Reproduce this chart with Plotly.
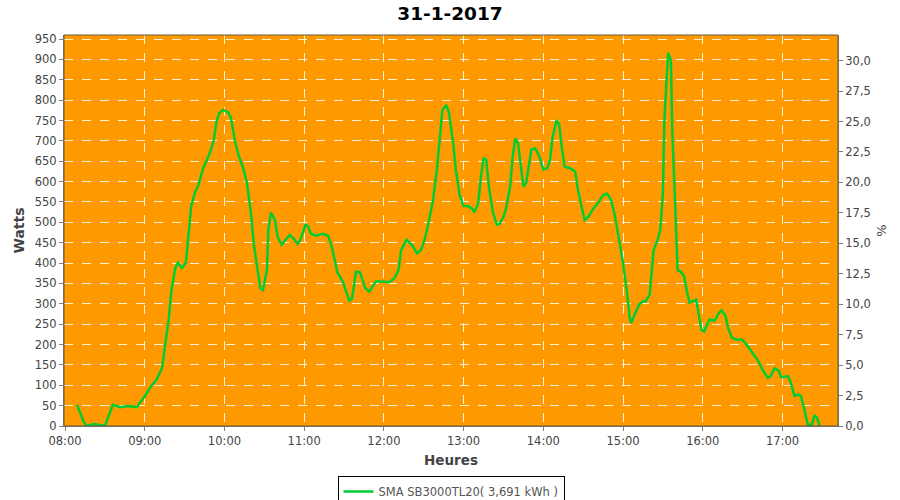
import plotly.graph_objects as go

DAY = "2017-01-31"
times = ["08:09","08:14","08:16","08:22","08:30","08:36","08:42","08:47","08:54","09:00",
         "09:05","09:09","09:13","09:15","09:18","09:20","09:23","09:25","09:28","09:31",
         "09:33","09:35","09:38","09:40","09:44","09:49","09:52","09:54","09:56","09:59",
         "10:03","10:05","10:08","10:11","10:14","10:17","10:20","10:22","10:25","10:27",
         "10:29","10:32","10:33","10:35","10:38","10:40","10:43","10:45","10:49","10:52",
         "10:55","10:57","10:59","11:01","11:03","11:05","11:09","11:14","11:18","11:20",
         "11:23","11:25","11:29","11:34","11:36","11:39","11:42","11:46","11:49","11:54",
         "11:59","12:04","12:08","12:11","12:13","12:17","12:21","12:25","12:28","12:31",
         "12:34","12:37","12:40","12:42","12:44","12:47","12:49","12:52","12:54","12:57",
         "13:00","13:03","13:06","13:08","13:11","13:13","13:15","13:17","13:19","13:22",
         "13:25","13:27","13:30","13:32","13:35","13:37","13:39","13:41","13:43","13:45",
         "13:47","13:49","13:51","13:54","13:57","14:00","14:03","14:05","14:07","14:10",
         "14:12","14:14","14:16","14:20","14:24","14:26","14:29","14:31","14:34","14:37",
         "14:41","14:45","14:48","14:51","14:54","14:57","15:00","15:03","15:05","15:06",
         "15:09","15:12","15:15","15:17","15:20","15:21","15:23","15:26","15:28","15:30",
         "15:31","15:33","15:34","15:36","15:37","15:39","15:40","15:41","15:44","15:46",
         "15:48","15:50","15:52","15:55","15:57","15:59","16:01","16:03","16:05","16:09",
         "16:12","16:14","16:17","16:19","16:22","16:26","16:29","16:32","16:35","16:38",
         "16:42","16:45","16:49","16:51","16:54","16:57","16:59","17:02","17:04","17:06",
         "17:09","17:12","17:14","17:17","17:19","17:22","17:24","17:26","17:28"]
watts = [52,11,0,5,0,52,46,49,46,73,
         99,114,142,195,261,330,388,401,388,401,
         477,540,575,588,633,670,702,747,768,776,
         770,755,698,661,635,596,522,449,383,338,
         334,383,481,524,506,465,445,453,469,461,
         447,456,477,494,490,472,467,472,467,449,
         408,377,355,308,312,379,377,338,330,355,
         355,353,363,383,432,457,445,424,432,461,
         506,555,633,715,776,788,768,698,633,567,
         540,540,535,525,547,612,657,653,588,526,
         494,496,514,535,588,665,706,694,633,588,
         596,641,679,682,661,630,633,653,710,751,
         739,682,637,633,625,580,531,506,514,531,
         547,567,570,555,514,461,400,326,265,253,
         277,298,306,306,322,367,432,457,481,572,
         743,866,916,898,727,563,449,383,377,367,
         330,303,306,310,273,236,232,248,261,259,
         277,284,271,240,216,212,213,204,191,175,
         158,138,118,123,142,136,120,121,123,109,
         74,77,73,32,3,3,25,20,0]

series_name = "SMA SB3000TL20( 3,691 kWh )"
title_text = "31-1-2017"
peak_power = 2990.0  # W corresponding to 100 %

x = [f"{DAY} {t}" for t in times]
pct = [w / peak_power * 100 for w in watts]

FONT = "DejaVu Sans"
ORANGE = "#ff9900"
GREEN = "#00cc33"
AXC = "#808080"
GRID = "rgba(255,255,255,0.85)"

W, H = 900, 500

fig = go.Figure()
fig.add_trace(go.Scatter(x=x, y=watts, mode="lines", name=series_name,
                         line=dict(color=GREEN, width=2.5), yaxis="y"))
fig.add_trace(go.Scatter(x=x, y=pct, mode="lines", showlegend=False, hoverinfo="skip",
                         line=dict(color="rgba(0,0,0,0)", width=0), yaxis="y2"))

fig.update_layout(
    width=W, height=H,
    margin=dict(l=64, r=62, t=35, b=74, autoexpand=False),
    paper_bgcolor="white", plot_bgcolor=ORANGE,
    separators=",.",
    font=dict(family=FONT, size=11.5, color="#444444"),
    title=dict(text=f"<b>{title_text}</b>", x=0.5, xanchor="center", y=1 - 13.5 / H, yanchor="middle",
               font=dict(family=FONT, size=18.5, color="#000000")),
    xaxis=dict(type="date", range=[f"{DAY} 07:59:15", f"{DAY} 17:41:45"],
               tickformat="%H:%M", dtick=3600000, tick0=f"{DAY} 08:00",
               showgrid=True, gridcolor=GRID, griddash="dash", gridwidth=1,
               showline=True, linecolor=AXC, linewidth=1,
               ticks="outside", ticklen=4, tickcolor=AXC,
               zeroline=False, automargin=False,
               title=dict(text="<b>Heures</b>", font=dict(family=FONT, size=13.5, color="#444444"), standoff=8)),
    yaxis=dict(range=[0, 960], dtick=50, tick0=0,
               showgrid=True, gridcolor=GRID, griddash="dash", gridwidth=1,
               showline=True, linecolor=AXC, linewidth=1,
               ticks="outside", ticklen=4, tickcolor=AXC,
               zeroline=False, automargin=False,
               title=dict(text="<b>Watts</b>", font=dict(family=FONT, size=14, color="#444444"), standoff=6)),
    yaxis2=dict(range=[0, 32.1], dtick=2.5, tick0=0, tickformat=".1f",
                overlaying="y", side="right", showgrid=False, zeroline=False,
                showline=True, linecolor=AXC, linewidth=1,
                ticks="outside", ticklen=4, tickcolor=AXC, automargin=False,
                title=dict(text="%", font=dict(family=FONT, size=13, color="#444444"), standoff=6)),
    legend=dict(x=0.5, xanchor="center", y=-50 / 391, yanchor="top", orientation="h",
                bordercolor="#000000", borderwidth=1, bgcolor="white", itemwidth=30,
                font=dict(family=FONT, size=11.5, color="#555555")),
    shapes=[dict(type="rect", xref="paper", yref="paper", x0=0, x1=1, y0=0, y1=1,
                 line=dict(color="#6b5a3a", width=1), fillcolor="rgba(0,0,0,0)", layer="above")],
)

fig.write_html("out.html", config={"displayModeBar": False},
               post_script="document.body.style.margin='0';document.body.style.overflow='hidden';")
